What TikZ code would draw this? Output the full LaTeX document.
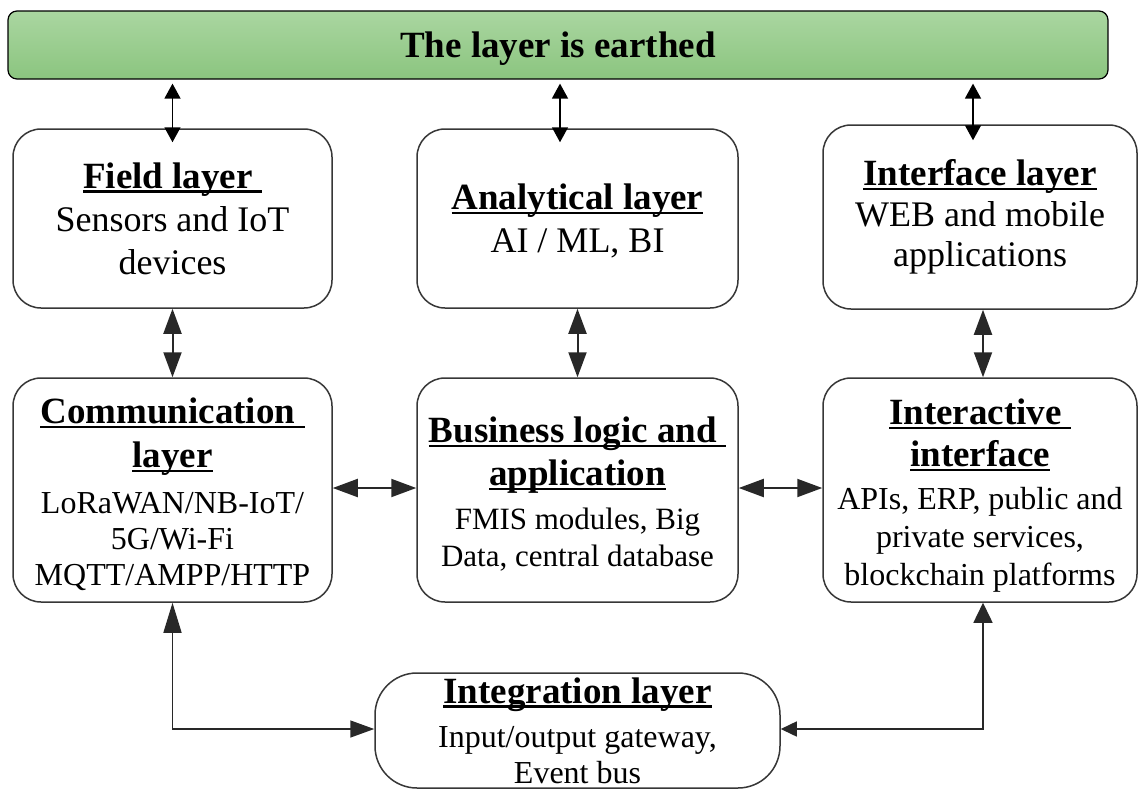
\documentclass[tikz,border=0pt]{standalone}
\usepackage{fontspec}
\setmainfont{Liberation Serif}
\usetikzlibrary{arrows.meta,calc}

\definecolor{boxline}{RGB}{55,55,55}
\definecolor{arrowgray}{RGB}{40,40,40}
\definecolor{greentop}{RGB}{170,214,161}
\definecolor{greenbot}{RGB}{139,197,127}

% bold, underlined heading (underline spans the whole box, trailing space included)
\newcommand\hd[1]{{\bfseries\fontsize{37}{43}\selectfont\setbox0\hbox{#1}\rlap{\rule[-0.12em]{\wd0}{0.065em}}\box0}}
% invisible strut that lowers a text block inside its box
\newcommand\topgap[1]{\rule{0pt}{#1}}

\tikzset{
  layerbox/.style={draw=boxline, line width=1.5pt, rounded corners=28pt,
    inner sep=0pt, align=center, fill=white},
  toprow/.style={font=\fontsize{36}{43}\selectfont},
  lowrow/.style={font=\fontsize{32}{36}\selectfont},
  earthlink/.style={line width=1.5pt, draw=black,
    arrows={Triangle[length=15pt,width=16pt]-Triangle[length=15pt,width=16pt]}},
  stacklink/.style={line width=2pt, draw=arrowgray,
    arrows={Triangle[length=25pt,width=18pt]-Triangle[length=25pt,width=18pt]}},
  buslink/.style={line width=1.5pt, draw=arrowgray},
}

\begin{document}
\begin{tikzpicture}[x=1pt, y=-1pt]
\useasboundingbox (0,0) rectangle (1138,790);

% earthing bar
\node[draw=black, line width=1.2pt, rounded corners=9pt, top color=greentop,
  bottom color=greenbot, minimum width=1100pt, minimum height=68pt, inner sep=0pt,
  text depth=0pt, font=\bfseries\fontsize{37}{43}\selectfont] (earth) at (558,45) {The layer is earthed};

% upper row
\node[layerbox, toprow, minimum width=319pt, minimum height=179pt] (field) at (172.5,218.5)
  {\hd{Field layer\ }\\Sensors and IoT\\devices};
\node[layerbox, toprow, minimum width=321pt, minimum height=179pt] (ana) at (577.5,218.5)
  {\topgap{31pt}\hd{Analytical layer}\\AI / ML, BI};
\node[layerbox, toprow, minimum width=314pt, minimum height=184pt] (iface) at (980,217)
  {\hd{Interface layer}\\[-2pt]WEB and mobile\\[-3pt]applications};

% middle row
\node[layerbox, lowrow, minimum width=319pt, minimum height=224pt] (comm) at (172.5,490)
  {\topgap{35pt}\hd{Communication\ }\\[8pt]\hd{layer}\\[10pt]LoRaWAN/NB-IoT/\\5G/Wi-Fi\\MQTT/AMPP/HTTP};
\node[layerbox, font=\fontsize{31}{37}\selectfont, minimum width=321pt, minimum height=224pt] (bus) at (577.5,490)
  {\topgap{34pt}\hd{Business logic and\ }\\[6pt]\hd{application}\\[7pt]FMIS modules, Big\\Data, central database};
\node[layerbox, lowrow, minimum width=314pt, minimum height=224pt] (inter) at (980,490)
  {\topgap{37pt}\hd{Interactive\ }\\[6pt]\hd{interface}\\[7pt]APIs, ERP, public and\\[2pt]private services,\\[2pt]blockchain platforms};

% bottom
\node[layerbox, lowrow, rounded corners=42pt, minimum width=405pt, minimum height=115pt] (integ) at (577.5,730.5)
  {\hd{Integration layer}\\[8pt]Input/output gateway,\\Event bus};

% reference columns for the connectors
\coordinate (xf) at (172.5,0);
\coordinate (xa) at (560,0);
\coordinate (xi) at (973,0);
\coordinate (xr) at (983,0);

% links to the earthing bar
\draw[earthlink, shorten <=4pt, shorten >=-14pt] (earth.south -| xf) -- (field.north -| xf);
\draw[earthlink, shorten <=4pt, shorten >=-14pt] (earth.south -| xa) -- (ana.north -| xa);
\draw[earthlink, shorten <=4pt, shorten >=-16pt] (earth.south -| xi) -- (iface.north -| xi);

% links between the stacked layers
\draw[stacklink] (field.south) -- (comm.north);
\draw[stacklink] (ana.south) -- (bus.north);
\draw[stacklink] (iface.south -| xr) -- (inter.north -| xr);
\draw[stacklink] ([yshift=2pt]comm.east) -- ([yshift=2pt]bus.west);
\draw[stacklink] ([yshift=2pt]bus.east) -- ([yshift=2pt]inter.west);

% integration bus
\draw[buslink, arrows={Triangle[length=24pt,width=17pt]-Triangle[length=30pt,width=18pt]}]
  ([yshift=1.5pt]integ.west) -| (comm.south);
\draw[buslink, arrows={Triangle[length=16pt,width=15pt]-Triangle[length=20pt,width=19pt]}]
  ([yshift=1.5pt]integ.east) -| (inter.south -| xr);
\end{tikzpicture}
\end{document}
